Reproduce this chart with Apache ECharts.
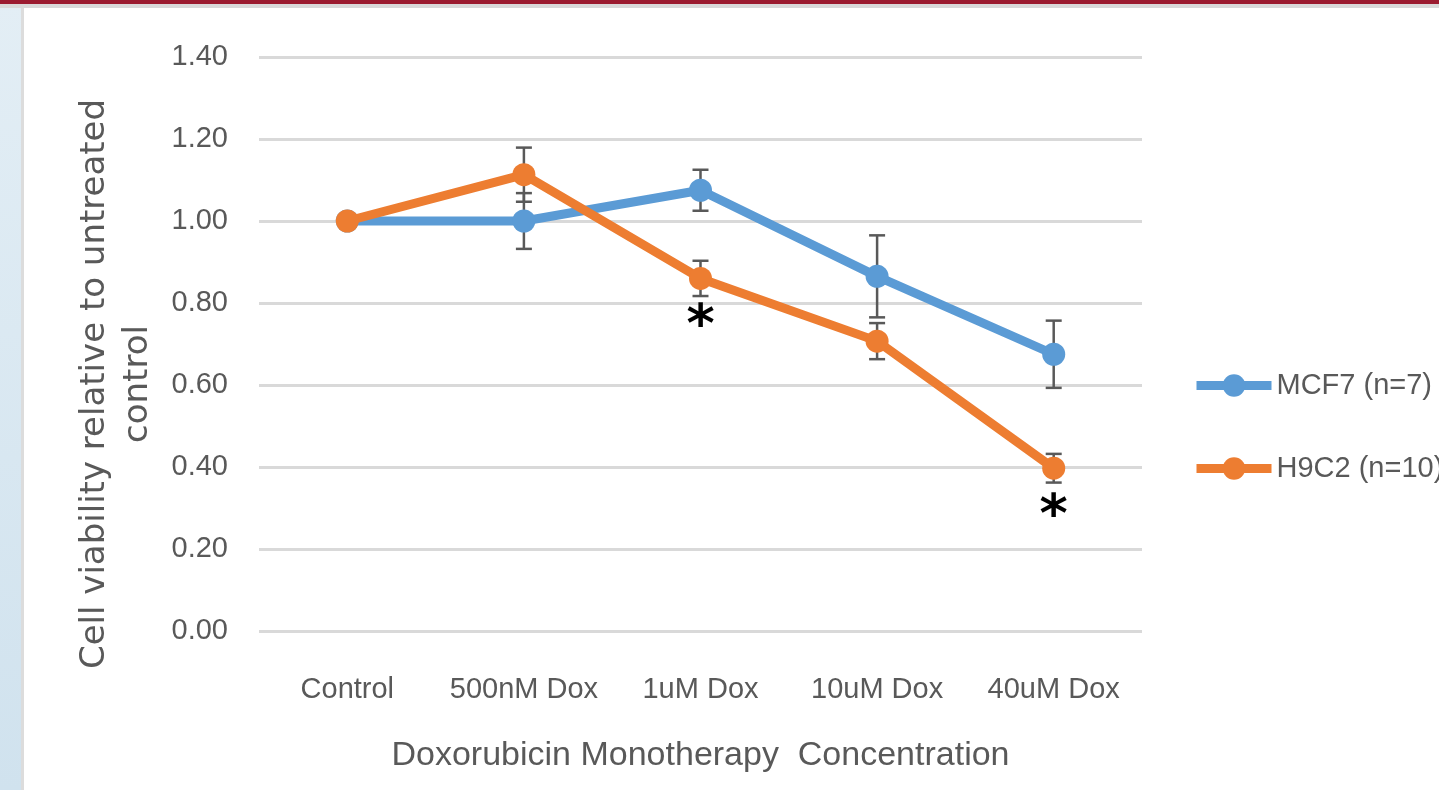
<!DOCTYPE html>
<html><head><meta charset="utf-8">
<script src="https://cdn.jsdelivr.net/npm/echarts@6/dist/echarts.min.js"></script>
<style>html,body{margin:0;padding:0;background:#fff;}#c{width:1439px;height:790px;}</style>
</head><body><div id="c"></div>
<script>
const categories = ['Control', '500nM Dox', '1uM Dox', '10uM Dox', '40uM Dox'];
const mcf7Mean = [1.00, 1.00, 1.075, 0.865, 0.675];
const mcf7Err  = [0.00, 0.068, 0.05, 0.10, 0.082];
const h9c2Mean = [1.00, 1.113, 0.86, 0.707, 0.397];
const h9c2Err  = [0.00, 0.066, 0.043, 0.044, 0.035];
const significant = ['1uM Dox', '40uM Dox'];
const seriesNames = ['MCF7 (n=7)', 'H9C2 (n=10)'];
const yTicks = ['0.00','0.20','0.40','0.60','0.80','1.00','1.20','1.40'];

const BLUE = '#5B9BD5', ORANGE = '#ED7D31', GRAY = '#595959';
const narrow = "'Liberation Sans', Arial, sans-serif";

function errSeries(mean, err) {
  return {
    type: 'custom', z: 1, silent: true,
    data: mean.map((m, i) => [i, m - err[i], m + err[i]]).filter((d, i) => err[i] > 0),
    renderItem: function (params, api) {
      const lo = api.coord([api.value(0), api.value(1)]);
      const hi = api.coord([api.value(0), api.value(2)]);
      const hw = 8;
      const st = { stroke: GRAY, lineWidth: 2.5 };
      return { type: 'group', children: [
        { type: 'line', shape: { x1: lo[0], y1: lo[1], x2: hi[0], y2: hi[1] }, style: st },
        { type: 'line', shape: { x1: lo[0]-hw, y1: lo[1], x2: lo[0]+hw, y2: lo[1] }, style: st },
        { type: 'line', shape: { x1: hi[0]-hw, y1: hi[1], x2: hi[0]+hw, y2: hi[1] }, style: st }
      ]};
    }
  };
}

const chart = echarts.init(document.getElementById('c'));
chart.setOption({
  animation: false,
  backgroundColor: '#fff',
  graphic: [
    { type: 'rect', left: 0, top: 0, shape: { width: 21, height: 790 }, z: -10,
      style: { fill: new echarts.graphic.LinearGradient(0, 0, 0, 1, [{offset:0,color:'#e3eef5'},{offset:1,color:'#d0e2ee'}]) } },
    { type: 'rect', left: 21, top: 0, shape: { width: 3, height: 790 }, z: -10, style: { fill: '#dcdcdc' } },
    { type: 'rect', left: 0, top: 4, shape: { width: 1439, height: 4 }, z: -10, style: { fill: '#d9d9d9' } },
    { type: 'rect', left: 0, top: 0, shape: { width: 1439, height: 4 }, z: -10, style: { fill: '#9b1b30' } }
  ],
  grid: { left: 259, right: 297, top: 57, bottom: 159, containLabel: false },
  legend: {
    orient: 'vertical', left: 1187, top: 366, itemGap: 54,
    itemWidth: 75, itemHeight: 28,
    lineStyle: { width: 9 },
    data: seriesNames,
    textStyle: { fontFamily: narrow, fontSize: 29, color: GRAY }
  },
  xAxis: {
    type: 'category', data: categories, boundaryGap: true,
    axisLine: { show: false }, axisTick: { show: false },
    axisLabel: { interval: 0, fontFamily: narrow, fontSize: 29, color: GRAY, margin: 44 },
    name: 'Doxorubicin Monotherapy  Concentration', nameLocation: 'middle', nameGap: 108,
    nameTextStyle: { fontFamily: narrow, fontSize: 34, color: GRAY }
  },
  yAxis: {
    type: 'value', min: 0, max: 1.4, interval: 0.2,
    axisLabel: { formatter: v => yTicks[Math.round(v / 0.2)], fontFamily: narrow, fontSize: 29, color: GRAY, margin: 31 },
    splitLine: { lineStyle: { color: '#d9d9d9', width: 3 } },
    axisLine: { show: false }, axisTick: { show: false },
    name: 'Cell viability relative to untreated\ncontrol', nameLocation: 'middle', nameGap: 99, nameRotate: 90,
    nameTextStyle: { fontFamily: "DejaVu Sans", fontSize: 34, color: GRAY, lineHeight: 43, padding: [0, 80, 0, 0] }
  },
  series: [
    errSeries(mcf7Mean, mcf7Err),
    errSeries(h9c2Mean, h9c2Err),
    { name: seriesNames[0], type: 'line', z: 2, data: mcf7Mean, symbol: 'circle', symbolSize: 23,
      lineStyle: { color: BLUE, width: 9 }, itemStyle: { color: BLUE } },
    { name: seriesNames[1], type: 'line', z: 3, data: h9c2Mean, symbol: 'circle', symbolSize: 23,
      lineStyle: { color: ORANGE, width: 9 }, itemStyle: { color: ORANGE },
      markPoint: {
        symbol: 'circle', symbolSize: 1, itemStyle: { color: 'rgba(0,0,0,0)' },
        label: { show: true, formatter: '*', color: '#000', fontSize: 54, fontWeight: 'bold', fontFamily: "'DejaVu Sans', sans-serif", offset: [0, 50] },
        data: significant.map(c => ({ coord: [c, h9c2Mean[categories.indexOf(c)]] }))
      } }
  ]
});
</script></body></html>
